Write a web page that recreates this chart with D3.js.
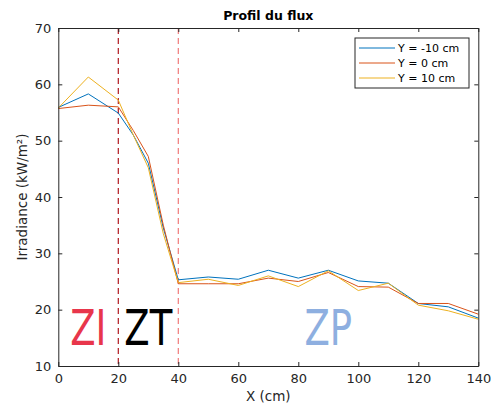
<!DOCTYPE html>
<html>
<head>
<meta charset="utf-8">
<script src="https://cdn.jsdelivr.net/npm/d3@7"></script>
<style>
  body { margin: 0; background: #fff; }
  svg { display: block; font-family: "DejaVu Sans", sans-serif; }
</style>
</head>
<body>
<svg id="chart" width="491" height="406"></svg>
<script>
// Sample positions along the flux profile (cm)
const xPositions = [0, 10, 20, 25, 30, 35, 40, 50, 60, 70, 80, 90, 100, 110, 120, 130, 140];
// Irradiance (kW/m²) measured on each transverse offset
const seriesNames = ["Y = -10 cm", "Y = 0 cm", "Y = 10 cm"];
const irrYm10 = [55.9, 58.3, 54.9, 51.0, 46.0, 34.5, 25.3, 25.8, 25.4, 27.0, 25.6, 27.0, 25.1, 24.7, 21.1, 20.5, 18.5];
const irrY0   = [55.7, 56.3, 56.0, 51.8, 47.2, 35.0, 24.6, 24.6, 24.6, 25.6, 25.0, 26.6, 24.1, 24.0, 21.1, 21.1, 19.2];
const irrY10  = [55.8, 61.3, 57.2, 51.0, 45.2, 33.5, 24.8, 25.4, 24.3, 26.0, 24.1, 26.9, 23.4, 24.7, 20.8, 19.8, 18.3];
const seriesColors = ["#0072BD", "#D95319", "#EDB120"];
const xTicks = [0, 20, 40, 60, 80, 100, 120, 140];
const yTicks = [10, 20, 30, 40, 50, 60, 70];
// Zone boundaries and zone labels
const boundaries = [20, 40];
const boundaryColors = ["#b01820", "#f07a7a"];
const zones = [
  { label: "ZI", x: 10, color: "#e8364b" },
  { label: "ZT", x: 30, color: "#000000" },
  { label: "ZP", x: 90, color: "#8eafe0" }
];

const svg = d3.select("#chart");
const m = { left: 58.3, right: 491 - 478.3, top: 28, bottom: 406 - 366 };
const W = 491, H = 406;
const x = d3.scaleLinear().domain([0, 140]).range([m.left, W - m.right]);
const y = d3.scaleLinear().domain([10, 70]).range([H - m.bottom, m.top]);
const axisColor = "#262626";

// Zone boundaries
boundaries.forEach((b, i) => {
  svg.append("line")
    .attr("x1", x(b)).attr("x2", x(b))
    .attr("y1", y(70)).attr("y2", y(10))
    .attr("stroke", boundaryColors[i]).attr("stroke-width", 1.2)
    .attr("stroke-dasharray", "6,4");
});

// Zone labels (condensed horizontally)
const labelScaleX = 0.74;
zones.forEach(z => {
  svg.append("text")
    .attr("transform", `translate(${x(z.x)},345) scale(${labelScaleX},1)`)
    .attr("text-anchor", "middle")
    .attr("font-size", 50)
    .attr("fill", z.color)
    .text(z.label);
});

// Profiles
const seriesData = [irrYm10, irrY0, irrY10];
const line = d3.line().x((d, i) => x(xPositions[i])).y(d => y(d));
seriesData.forEach((s, k) => {
  svg.append("path")
    .datum(s)
    .attr("d", line)
    .attr("fill", "none")
    .attr("stroke", seriesColors[k])
    .attr("stroke-width", 1);
});

// Axes (box with inward ticks)
const tickLen = 4;
const fmt = d3.format("d");
const gx = svg.append("g").attr("transform", `translate(0,${y(10)})`)
  .call(d3.axisBottom(x).tickValues(xTicks).tickSizeInner(-tickLen).tickSizeOuter(0).tickPadding(8).tickFormat(fmt));
const gxTop = svg.append("g").attr("transform", `translate(0,${y(70)})`)
  .call(d3.axisTop(x).tickValues(xTicks).tickSizeInner(-tickLen).tickSizeOuter(0).tickFormat(""));
const gy = svg.append("g").attr("transform", `translate(${x(0)},0)`)
  .call(d3.axisLeft(y).tickValues(yTicks).tickSizeInner(-tickLen).tickSizeOuter(0).tickPadding(7).tickFormat(fmt));
const gyR = svg.append("g").attr("transform", `translate(${x(140)},0)`)
  .call(d3.axisRight(y).tickValues(yTicks).tickSizeInner(-tickLen).tickSizeOuter(0).tickFormat(""));
[gx, gxTop, gy, gyR].forEach(g => {
  g.selectAll("path").attr("stroke", axisColor).attr("stroke-width", 1);
  g.selectAll("line").attr("stroke", axisColor);
  g.selectAll("text").attr("fill", axisColor).attr("font-size", 13)
    .attr("font-family", "DejaVu Sans, sans-serif");
});

// Title and axis labels
svg.append("text").attr("x", (x(0) + x(140)) / 2).attr("y", 20)
  .attr("text-anchor", "middle").attr("font-size", 12.5).attr("font-weight", "bold")
  .attr("fill", "#000").text("Profil du flux");
svg.append("text").attr("x", (x(0) + x(140)) / 2).attr("y", 401)
  .attr("text-anchor", "middle").attr("font-size", 13.5).attr("fill", axisColor).text("X (cm)");
svg.append("text")
  .attr("transform", `translate(27,${(y(10) + y(70)) / 2}) rotate(-90)`)
  .attr("text-anchor", "middle").attr("font-size", 13.5).attr("fill", axisColor)
  .text("Irradiance (kW/m²)");

// Legend
const lg = svg.append("g").attr("transform", "translate(355,38)");
lg.append("rect").attr("width", 114).attr("height", 50)
  .attr("fill", "#fff").attr("stroke", axisColor).attr("stroke-width", 1);
seriesNames.forEach((n, i) => {
  const yy = 10 + i * 15;
  lg.append("line").attr("x1", 4).attr("x2", 40).attr("y1", yy).attr("y2", yy)
    .attr("stroke", seriesColors[i]).attr("stroke-width", 1);
  lg.append("text").attr("x", 43).attr("y", yy + 4).attr("font-size", 11)
    .attr("fill", "#000").text(n);
});
</script>
</body>
</html>
